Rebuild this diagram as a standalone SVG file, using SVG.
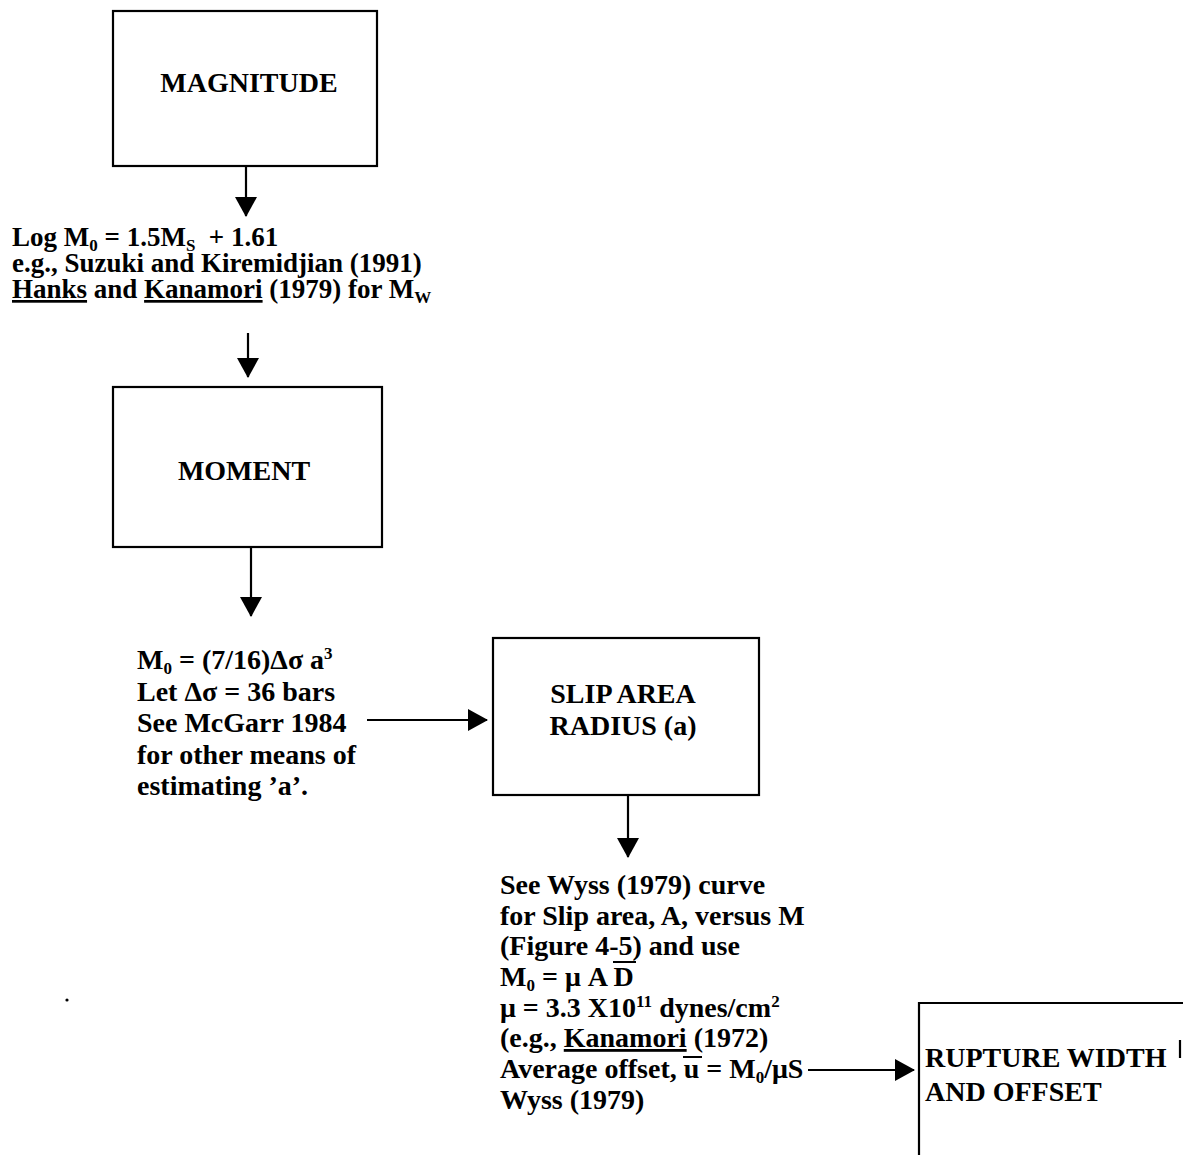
<svg xmlns="http://www.w3.org/2000/svg" width="1183" height="1155" viewBox="0 0 1183 1155">
<style>
.box{fill:none;stroke:#000;stroke-width:2.2}
.lbl{font-family:"Liberation Serif","Times New Roman",serif;font-weight:bold;font-size:28px;fill:#000}
.txt{font-family:"Liberation Serif","Times New Roman",serif;font-weight:bold;font-size:28px;fill:#000}
.t27{font-size:27px}
.sub{font-size:17px}
.con{fill:none;stroke:#000;stroke-width:2.2}
.bar{stroke:#000;stroke-width:2}
.ul{text-decoration:underline}
</style>
<defs>
<marker id="ah" markerWidth="20" markerHeight="22" refX="19" refY="11" orient="auto" markerUnits="userSpaceOnUse">
<path d="M0,0 L20,11 L0,22 z" fill="#000"/>
</marker>
</defs>
<rect width="1183" height="1155" fill="#fff"/>

<g id="magnitude">
<rect class="box" x="113" y="11" width="264" height="155"/>
<text class="lbl" x="249" y="92" text-anchor="middle">MAGNITUDE</text>
</g>

<g id="moment">
<rect class="box" x="113" y="387" width="269" height="160"/>
<text class="lbl" x="244" y="480" text-anchor="middle">MOMENT</text>
</g>

<g id="slip-area">
<rect class="box" x="493" y="638" width="266" height="157"/>
<text class="lbl" x="623" y="703" text-anchor="middle">SLIP AREA</text>
<text class="lbl" x="623" y="735" text-anchor="middle">RADIUS (a)</text>
</g>

<g id="rupture">
<path class="box" d="M919,1160 V1003 H1183 M1180,1040 V1058"/>
<text class="lbl" x="925" y="1067">RUPTURE WIDTH</text>
<text class="lbl" x="925" y="1101">AND OFFSET</text>
</g>

<g id="note-magnitude-moment" class="txt t27">
<text x="12" y="246">Log M<tspan class="sub" dy="5">0</tspan><tspan dy="-5"> = 1.5M</tspan><tspan class="sub" dy="5">S</tspan><tspan dy="-5" xml:space="preserve">  + 1.61</tspan></text>
<text x="12" y="272">e.g., Suzuki and Kiremidjian (1991)</text>
<text x="12" y="298"><tspan class="ul">Hanks</tspan> and <tspan class="ul">Kanamori</tspan> (1979) for M<tspan class="sub" dy="5">W</tspan></text>
</g>

<g id="note-moment-radius" class="txt">
<text x="137" y="669">M<tspan class="sub" dy="5">0</tspan><tspan dy="-5"> = (7/16)Δσ a</tspan><tspan class="sub" dy="-10">3</tspan></text>
<text x="137" y="701">Let Δσ = 36 bars</text>
<text x="137" y="732">See McGarr 1984</text>
<text x="137" y="764">for other means of</text>
<text x="137" y="795">estimating ’a’.</text>
</g>

<g id="note-radius-rupture" class="txt">
<text x="500" y="894">See Wyss (1979) curve</text>
<text x="500" y="925">for Slip area, A, versus M</text>
<text x="500" y="955">(Figure 4-5) and use</text>
<text x="500" y="986">M<tspan class="sub" dy="5">0</tspan><tspan dy="-5"> = μ A D</tspan></text>
<text x="500" y="1017">μ = 3.3 X10<tspan class="sub" dy="-10">11</tspan><tspan dy="10"> dynes/cm</tspan><tspan class="sub" dy="-10">2</tspan></text>
<text x="500" y="1047">(e.g., <tspan class="ul">Kanamori</tspan> (1972)</text>
<text x="500" y="1078">Average offset, u = M<tspan class="sub" dy="5">0</tspan><tspan dy="-5">/μS</tspan></text>
<text x="500" y="1109">Wyss (1979)</text>
<line class="bar" x1="613" y1="962" x2="636" y2="962"/>
<line class="bar" x1="683" y1="1057" x2="702" y2="1057"/>
</g>

<circle cx="67" cy="1000" r="1.6" fill="#000"/>

<g id="connectors">
<line class="con" x1="246" y1="166" x2="246" y2="216" marker-end="url(#ah)"/>
<line class="con" x1="248" y1="333" x2="248" y2="377" marker-end="url(#ah)"/>
<line class="con" x1="251" y1="547" x2="251" y2="616" marker-end="url(#ah)"/>
<line class="con" x1="367" y1="720" x2="487" y2="720" marker-end="url(#ah)"/>
<line class="con" x1="628" y1="795" x2="628" y2="857" marker-end="url(#ah)"/>
<line class="con" x1="808" y1="1070" x2="914" y2="1070" marker-end="url(#ah)"/>
</g>
</svg>
